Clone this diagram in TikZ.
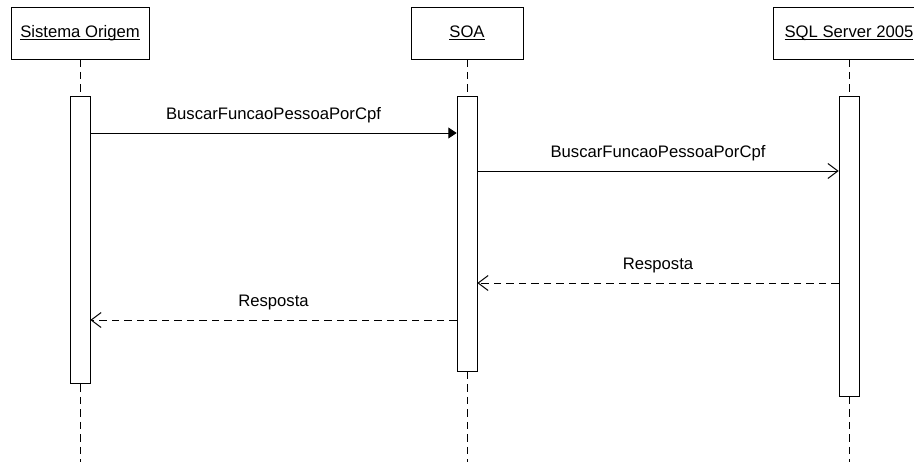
\documentclass[tikz,border=0pt]{standalone}
\usepackage{fontspec}
\setmainfont{Liberation Sans}
\usepackage{xcolor}
\usepackage{tikz}
\usetikzlibrary{arrows.meta,positioning}

% underline at a fixed depth, as in the original
\newcommand{\headline}[1]{\setbox0\hbox{#1}\rlap{\rule[-1.6pt]{\wd0}{0.5pt}}\box0}

\begin{document}
\begin{tikzpicture}[
      x=0.6pt, y=-0.6pt,
      every node/.style={font=\fontsize{10}{12}\selectfont},
      head/.style={
        draw, rectangle, minimum height=31.2pt, inner sep=0pt, fill=white
      },
      act/.style={
        draw, rectangle, minimum width=12pt, inner sep=0pt, fill=white
      },
      life/.style={dash pattern=on 4.5pt off 3pt, line width=0.6pt},
      call/.style={line width=0.6pt, -{Triangle[length=5pt,width=6.5pt]}},
      msg/.style={line width=0.6pt, -{Straight Barb[length=6pt,width=9pt]}},
      reply/.style={msg, dash pattern=on 4.5pt off 3pt},
      msglabel/.style={above=6pt, inner sep=0pt}
    ]
    \useasboundingbox (0,0) rectangle (914,470);

    % lifeline heads
    \node[head, minimum width=82.8pt] (orig) at (80,33) {\headline{Sistema Origem}};
    \node[head, minimum width=67.2pt] (soa) at (467,33) {\headline{SOA}};
    \node[head, minimum width=91.2pt] (sql) at (849,33) {\headline{SQL Server 2005}};

    % lifelines
    \coordinate (origEnd) at (80,462);
    \coordinate (soaEnd) at (467,462);
    \coordinate (sqlEnd) at (849,462);
    \draw[life] (orig.south) -- (origEnd);
    \draw[life] (soa.south) -- (soaEnd);
    \draw[life] (sql.south) -- (sqlEnd);

    % activations
    \node[act, minimum height=172.2pt] (a1) at (80,239.5) {};
    \node[act, minimum height=165pt] (a2) at (467,233.5) {};
    \node[act, minimum height=180pt] (a3) at (849,246) {};

    % messages
    \draw[call] (a1.east |- 0,133) -- (a2.west |- 0,133)
      node[midway, msglabel] {BuscarFuncaoPessoaPorCpf};
    \draw[msg] (a2.east |- 0,171) -- (a3.west |- 0,171)
      node[midway, msglabel] {BuscarFuncaoPessoaPorCpf};
    \draw[reply] (a3.west |- 0,283) -- (a2.east |- 0,283)
      node[midway, msglabel] {Resposta};
    \draw[reply] (a2.west |- 0,320) -- (a1.east |- 0,320)
      node[midway, msglabel] {Resposta};
  \end{tikzpicture}
\end{document}
